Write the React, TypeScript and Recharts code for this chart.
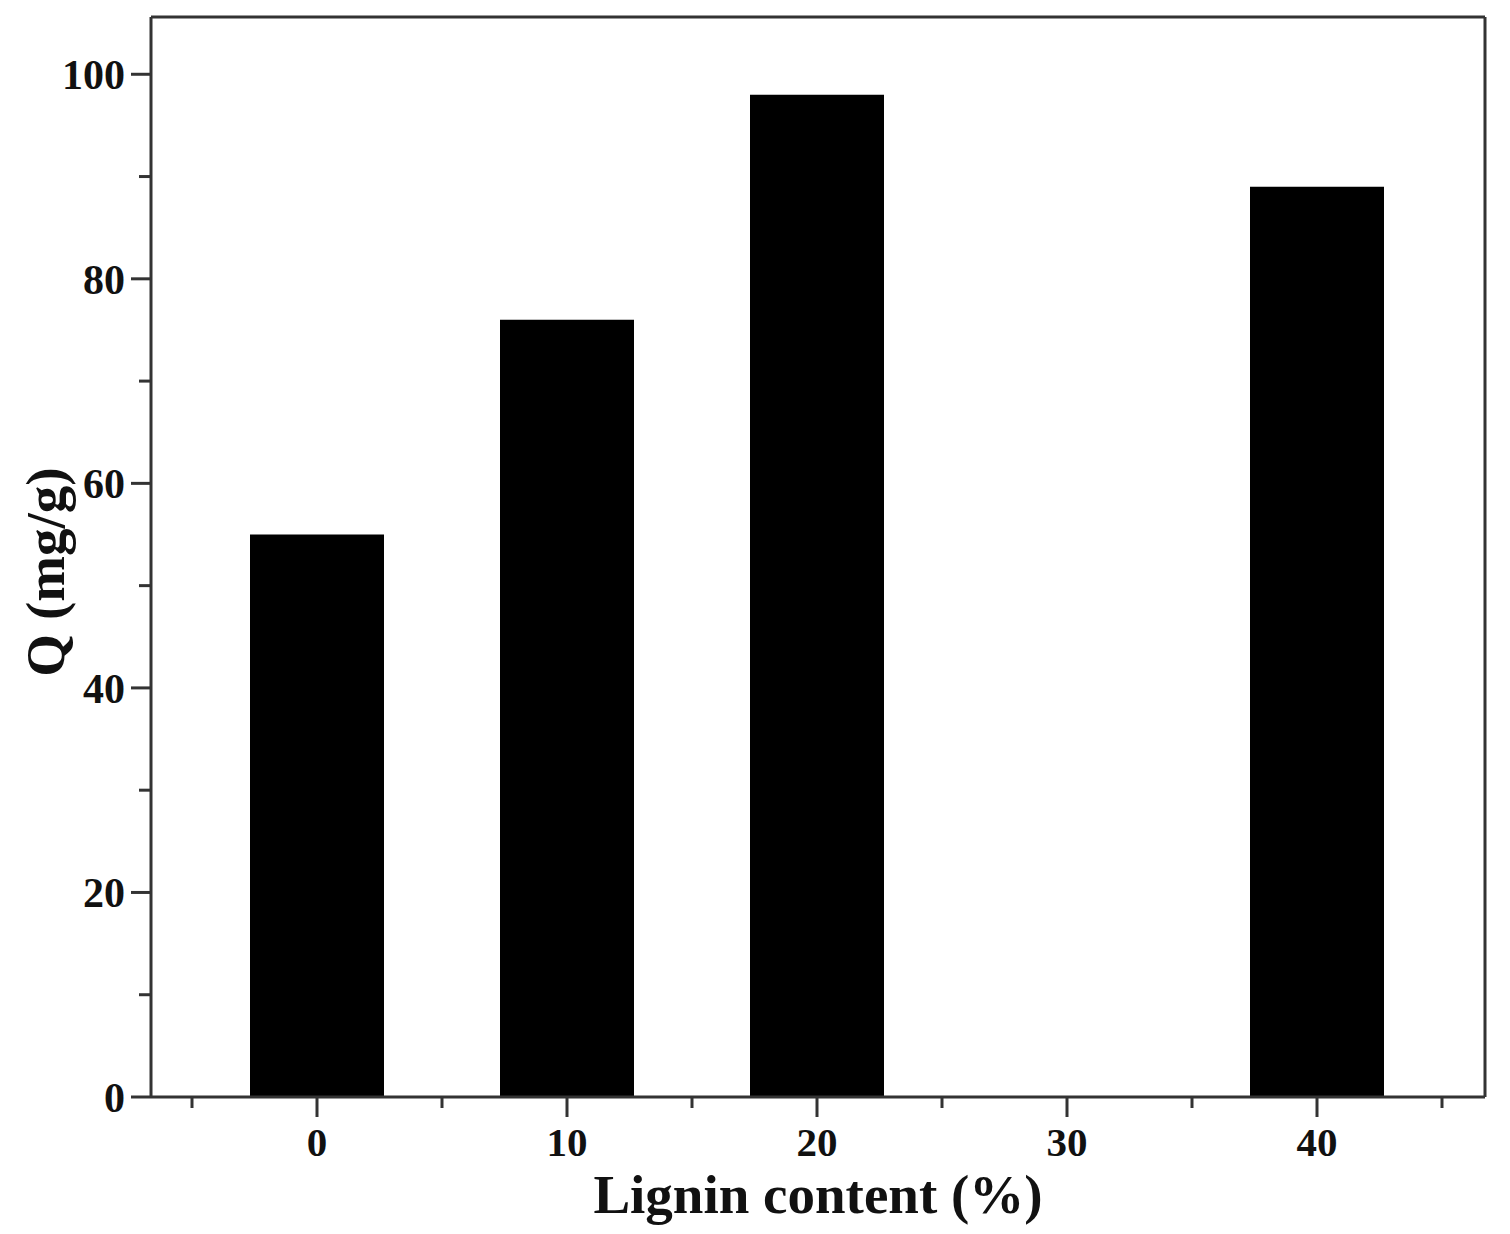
import { BarChart, Bar, XAxis, YAxis, ReferenceLine } from 'recharts';

// lignin content (%) and adsorption capacity Q (mg/g)
const ligninContent = [0, 10, 20, 30, 40];
const qValues: (number | null)[] = [55, 76, 98, null, 89];

const xTicks = [-5, 0, 5, 10, 15, 20, 25, 30, 35, 40, 45];
const xLabeled = [0, 10, 20, 30, 40];
const yTicks = [0, 10, 20, 30, 40, 50, 60, 70, 80, 90, 100];
const yLabeled = [0, 20, 40, 60, 80, 100];

const X_DOMAIN: [number, number] = [-6.64, 46.72];
const Y_DOMAIN: [number, number] = [0, 105.6];

const font = '"Liberation Serif", "Times New Roman", serif';
const axisColor = '#333';

const data = ligninContent.map((c, i) => ({ content: c, q: qValues[i] }));

const XTick = (props: any) => {
    const { x, y, payload } = props;
    const major = xLabeled.includes(payload.value);
    return (
        <g>
            <line x1={x} x2={x} y1={y} y2={y + (major ? 20 : 11)} stroke={axisColor} strokeWidth={3} />
            {major && (
                <text x={x} y={y + 59} textAnchor="middle" fontFamily={font} fontWeight="bold" fontSize={41} fill="#111">
                    {payload.value}
                </text>
            )}
        </g>
    );
};

const YTick = (props: any) => {
    const { x, y, payload } = props;
    const major = yLabeled.includes(payload.value);
    return (
        <g>
            <line x1={x - (major ? 20 : 12)} x2={x} y1={y} y2={y} stroke={axisColor} strokeWidth={3} />
            {major && (
                <text x={x - 26} y={y} dy="0.35em" textAnchor="end" fontFamily={font} fontWeight="bold" fontSize={42} fill="#111">
                    {payload.value}
                </text>
            )}
        </g>
    );
};

const App = () => {
    return (
        <div style={{ position: 'absolute', left: 0, top: 0, background: '#fff' }}>
            <BarChart
                width={1510}
                height={1234}
                data={data}
                margin={{ top: 17, right: 25, left: 0, bottom: 0 }}
            >
                <XAxis
                    dataKey="content"
                    type="number"
                    domain={X_DOMAIN}
                    ticks={xTicks}
                    allowDataOverflow
                    height={137}
                    tickLine={false}
                    tickSize={0}
                    tickMargin={0}
                    tick={<XTick />}
                    axisLine={{ stroke: axisColor, strokeWidth: 3 }}
                    label={{
                        content: (p: any) => (
                            <text
                                x={p.viewBox.x + p.viewBox.width / 2}
                                y={p.viewBox.y + 116}
                                textAnchor="middle"
                                fontFamily={font}
                                fontWeight="bold"
                                fontSize={55}
                                fill="#111"
                            >
                                Lignin content (%)
                            </text>
                        ),
                    }}
                />
                <YAxis
                    type="number"
                    domain={Y_DOMAIN}
                    ticks={yTicks}
                    allowDataOverflow
                    width={151}
                    tickLine={false}
                    tickSize={0}
                    tickMargin={0}
                    tick={<YTick />}
                    axisLine={{ stroke: axisColor, strokeWidth: 3 }}
                    label={{
                        content: (p: any) => {
                            const cx = 45;
                            const cy = p.viewBox.y + 555;
                            return (
                                <text
                                    x={cx}
                                    y={cy}
                                    transform={`rotate(-90, ${cx}, ${cy})`}
                                    textAnchor="middle"
                                    dominantBaseline="central"
                                    fontFamily={font}
                                    fontWeight="bold"
                                    fontSize={55}
                                    fill="#111"
                                >
                                    Q (mg/g)
                                </text>
                            );
                        },
                    }}
                />
                <ReferenceLine y={Y_DOMAIN[1]} stroke={axisColor} strokeWidth={3} />
                <ReferenceLine x={X_DOMAIN[1]} stroke={axisColor} strokeWidth={3} />
                <Bar dataKey="q" fill="#000" barSize={134} isAnimationActive={false} />
            </BarChart>
        </div>
    );
};

export default App;
